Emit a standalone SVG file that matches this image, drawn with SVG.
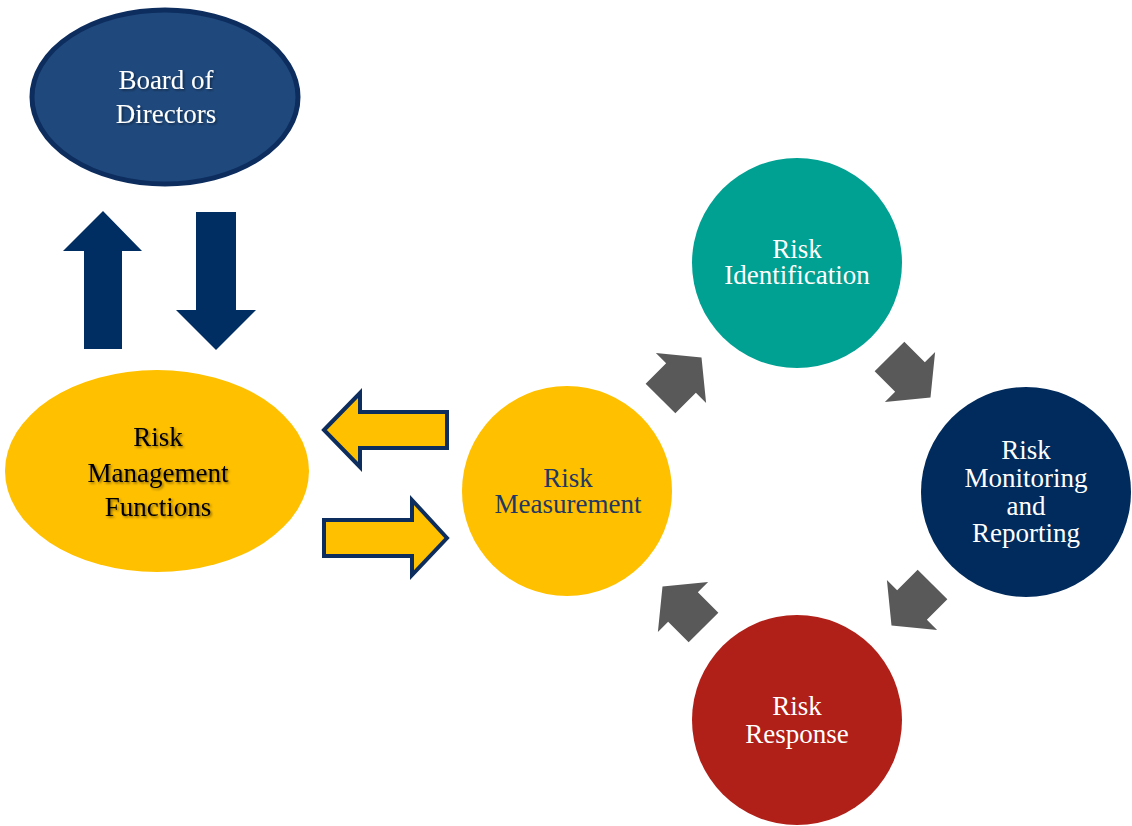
<svg xmlns="http://www.w3.org/2000/svg" width="1132" height="826" viewBox="0 0 1132 826">
<style>
.t{font-family:"Liberation Serif","Times New Roman",serif;font-size:27px;text-anchor:middle}
.w{fill:#ffffff}
.sh{filter:url(#ts)}
.ga{fill:#595959}
.na{fill:#002d62}
.ya{fill:#ffc000;stroke:#0d2d5e;stroke-width:4;stroke-linejoin:miter}
</style>
<defs>
<filter id="ts" x="-10%" y="-10%" width="120%" height="130%">
<feDropShadow dx="1.5" dy="1.5" stdDeviation="1" flood-color="#000" flood-opacity="0.45"/>
</filter>
<path id="garrow" d="M-29,-21 L0,-21 L0,-35.5 L29,0 L0,35.5 L0,21 L-29,21 Z"/>
</defs>
<rect width="1132" height="826" fill="#ffffff"/>
<g id="connectors">
<path class="na" d="M63,251 L103,211 L142,251 L122,251 L122,349 L84,349 L84,251 Z"/>
<path class="na" d="M196,212 L236,212 L236,310 L256,310 L216,350 L176,310 L196,310 Z"/>
<path class="ya" d="M324,430 L360,393 L360,412 L447,412 L447,448 L360,448 L360,467 Z"/>
<path class="ya" d="M447,538 L412,500 L412,520 L324,520 L324,556 L412,556 L412,575 Z"/>
<use href="#garrow" class="ga" transform="translate(681,378) rotate(-45)"/>
<use href="#garrow" class="ga" transform="translate(910,377) rotate(45)"/>
<use href="#garrow" class="ga" transform="translate(912,605) rotate(135)"/>
<use href="#garrow" class="ga" transform="translate(683,607) rotate(-135)"/>
</g>
<g id="board">
<ellipse cx="165" cy="97" rx="133" ry="87" fill="#1f497d" stroke="#0d2d5e" stroke-width="5"/>
<text class="t w sh" x="166" y="89">Board of</text>
<text class="t w sh" x="166" y="123">Directors</text>
</g>
<g id="rmf">
<ellipse cx="157" cy="471" rx="152" ry="101" fill="#ffc000"/>
<text class="t sh" x="158" y="446" fill="#000">Risk</text>
<text class="t sh" x="158" y="482" fill="#000">Management</text>
<text class="t sh" x="158" y="516" fill="#000">Functions</text>
</g>
<g id="measurement">
<circle cx="567" cy="491" r="105" fill="#ffc000"/>
<text class="t" x="568" y="487" fill="#1f3864">Risk</text>
<text class="t" x="568" y="513" fill="#1f3864">Measurement</text>
</g>
<g id="identification">
<circle cx="797" cy="263" r="105" fill="#00a092"/>
<text class="t w" x="797" y="258">Risk</text>
<text class="t w" x="797" y="284">Identification</text>
</g>
<g id="monitoring">
<circle cx="1026" cy="492" r="105" fill="#002b5c"/>
<text class="t w" x="1026" y="459">Risk</text>
<text class="t w" x="1026" y="487">Monitoring</text>
<text class="t w" x="1026" y="515">and</text>
<text class="t w" x="1026" y="542">Reporting</text>
</g>
<g id="response">
<circle cx="797" cy="720" r="105" fill="#b01f18"/>
<text class="t w" x="797" y="715">Risk</text>
<text class="t w" x="797" y="743">Response</text>
</g>
</svg>
